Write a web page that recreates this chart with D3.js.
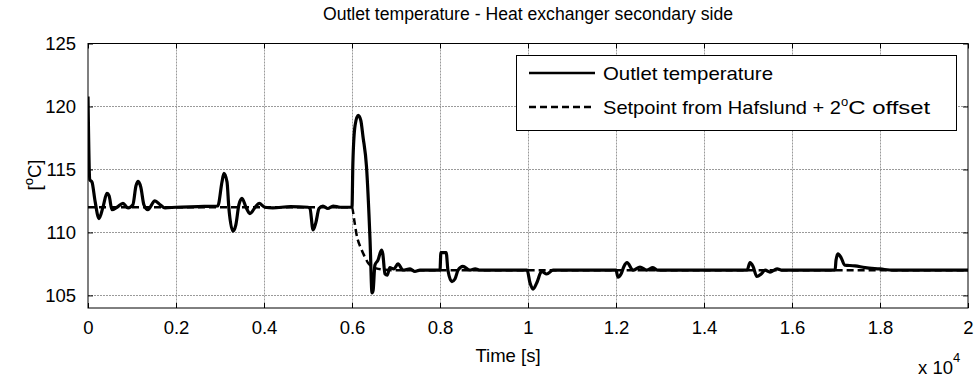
<!DOCTYPE html>
<html>
<head>
<meta charset="utf-8">
<script src="https://cdn.jsdelivr.net/npm/d3@7"></script>
<style>
  body { margin: 0; background: #fff; }
  text { font-family: "Liberation Sans", Arial, sans-serif; fill: #000; }
</style>
</head>
<body>
<svg id="chart" width="976" height="381"></svg>
<script>
// outlet temperature (solid)
var outTime = [0, 40, 91, 160, 250, 340, 430, 480, 545, 660, 795, 910, 1020, 1090, 1140, 1200, 1270, 1360, 1520, 1640, 1750,
  2000, 2500, 2950, 3045, 3090, 3160, 3200, 3295, 3360, 3430, 3500, 3590, 3680, 3800, 3890, 4020, 4200, 4600, 5000,
  5045, 5115, 5180, 5250, 5340, 5450, 5570, 5730, 6000, 6020, 6070, 6140, 6200, 6250, 6330, 6410, 6455, 6480, 6520,
  6590, 6670, 6700, 6750, 6800, 6860, 6950, 7045, 7160, 7320, 7430, 7545, 8000, 8020, 8140, 8180, 8270, 8340, 8410,
  8520, 8680, 8800, 8910, 9980, 10045, 10115, 10200, 10310, 10425, 10570, 12000, 12045, 12115, 12180, 12250, 12390,
  12545, 12700, 12840, 12950, 14980, 15045, 15115, 15200, 15300, 15390, 15500, 15660, 15770, 16980, 17000, 17045,
  17115, 17200, 17430, 17660, 18000, 18300, 20000];
var outTemp = [120.8, 114.2, 114.0, 112.5, 111.1, 112.0, 113.1, 112.9, 111.8, 112.0, 112.3, 111.95, 112.2, 113.7, 114.05, 113.6, 112.2, 111.8, 112.5, 112.2, 111.95,
  112.0, 112.05, 112.1, 114.0, 114.7, 114.0, 112.0, 110.1, 110.6, 112.2, 112.7, 112.0, 111.5, 112.0, 112.3, 112.0, 111.95, 112.05, 112.0,
  111.9, 110.2, 110.8, 111.9, 112.1, 111.9, 112.1, 112.0, 112.0, 115.5, 118.5, 119.3, 118.9, 117.6, 115.2, 109.4, 105.2, 105.4, 107.4,
  107.8, 108.6, 108.3, 106.7, 106.6, 107.2, 107.1, 107.5, 107.0, 107.1, 106.9, 107.0, 107.0, 108.4, 108.4, 107.0, 106.1, 106.3, 107.0,
  107.3, 107.0, 107.1, 107.0, 107.0, 106.0, 105.5, 106.0, 106.9, 106.7, 107.0, 107.0, 106.45, 106.7, 107.3, 107.6, 107.0,
  107.25, 107.0, 107.2, 107.0, 107.0, 107.6, 107.3, 106.5, 106.7, 107.0, 106.85, 107.1, 107.0, 107.0, 107.8, 108.3,
  108.0, 107.4, 107.35, 107.2, 107.1, 107.0, 107.0];

// setpoint from Hafslund + 2 degC offset (dashed)
var setTime = [0, 6000, 6050, 6100, 6220, 6300, 6360, 6450, 6550, 6700, 6900, 20000];
var setTemp = [112, 112, 111.0, 109.9, 108.6, 108.0, 107.6, 107.3, 107.15, 107.05, 107.0, 107.0];

var xTicks = [0, 2000, 4000, 6000, 8000, 10000, 12000, 14000, 16000, 18000, 20000];
var xTickLabels = ["0", "0.2", "0.4", "0.6", "0.8", "1", "1.2", "1.4", "1.6", "1.8", "2"];
var yTicks = [105, 110, 115, 120, 125];

var svg = d3.select("#chart");
var pLeft = 88, pRight = 968, pTop = 43.5, pBottom = 308;

var x = d3.scaleLinear().domain([0, 20000]).range([pLeft, pRight]);
var y = d3.scaleLinear().domain([104, 125]).range([pBottom, pTop]);

// grid
var grid = svg.append("g").attr("stroke", "#9a9a9a").attr("stroke-width", 1).attr("stroke-dasharray", "2,1");
grid.selectAll(".gx").data(xTicks.slice(1, -1)).enter().append("line")
  .attr("x1", d => Math.round(x(d)) + 0.5).attr("x2", d => Math.round(x(d)) + 0.5)
  .attr("y1", pTop).attr("y2", pBottom);
grid.selectAll(".gy").data(yTicks.slice(0, -1)).enter().append("line")
  .attr("y1", d => Math.round(y(d)) + 0.5).attr("y2", d => Math.round(y(d)) + 0.5)
  .attr("x1", pLeft).attr("x2", pRight);

// axes, ticks pointing inward on all four sides
var fmt = function(d, i) { return xTickLabels[i]; };
svg.append("g").attr("transform", "translate(0," + pBottom + ")")
  .call(d3.axisBottom(x).tickValues(xTicks).tickFormat(fmt).tickSizeInner(-5).tickSizeOuter(0).tickPadding(13));
svg.append("g").attr("transform", "translate(0," + pTop + ")")
  .call(d3.axisTop(x).tickValues(xTicks).tickFormat("").tickSizeInner(-5).tickSizeOuter(0));
svg.append("g").attr("transform", "translate(" + pLeft + ",0)")
  .call(d3.axisLeft(y).tickValues(yTicks).tickSizeInner(-5).tickSizeOuter(0).tickPadding(12));
svg.append("g").attr("transform", "translate(" + pRight + ",0)")
  .call(d3.axisRight(y).tickValues(yTicks).tickFormat("").tickSizeInner(-5).tickSizeOuter(0));
svg.selectAll(".domain").remove();
svg.selectAll(".tick line").attr("stroke", "#000");
svg.selectAll(".tick text").style("font-size", "18.5px").style("font-family", "Liberation Sans, Arial, sans-serif");

svg.append("rect").attr("x", pLeft).attr("y", pTop).attr("width", pRight - pLeft).attr("height", pBottom - pTop)
  .attr("fill", "none").attr("stroke", "#000").attr("stroke-width", 1);

// lines
svg.append("clipPath").attr("id", "clip").append("rect")
  .attr("x", pLeft).attr("y", pTop).attr("width", pRight - pLeft).attr("height", pBottom - pTop);

var line = d3.line().x(d => x(d[0])).y(d => y(d[1])).curve(d3.curveMonotoneX);
var setData = setTime.map((t, i) => [t, setTemp[i]]);
var outData = outTime.map((t, i) => [t, outTemp[i]]);

svg.append("path").attr("d", line(setData)).attr("clip-path", "url(#clip)")
  .attr("fill", "none").attr("stroke", "#000").attr("stroke-width", 2.5).attr("stroke-dasharray", "7,4");
svg.append("path").attr("d", line(outData)).attr("clip-path", "url(#clip)")
  .attr("fill", "none").attr("stroke", "#000").attr("stroke-width", 3.2).attr("stroke-linejoin", "round");

// legend
var lg = svg.append("g");
lg.append("rect").attr("x", 516.5).attr("y", 55.5).attr("width", 440).attr("height", 75)
  .attr("fill", "#fff").attr("stroke", "#000").attr("stroke-width", 1);
lg.append("line").attr("x1", 529).attr("x2", 595).attr("y1", 73).attr("y2", 73)
  .attr("stroke", "#000").attr("stroke-width", 2.5);
lg.append("line").attr("x1", 529).attr("x2", 595).attr("y1", 107).attr("y2", 107)
  .attr("stroke", "#000").attr("stroke-width", 2.5).attr("stroke-dasharray", "7,4");
lg.append("text").attr("x", 603).attr("y", 80).style("font-size", "18.5px")
  .attr("textLength", 170).attr("lengthAdjust", "spacingAndGlyphs").text("Outlet temperature");
var t2 = lg.append("text").attr("x", 603).attr("y", 114).style("font-size", "18.5px");
t2.append("tspan").attr("textLength", 238).attr("lengthAdjust", "spacingAndGlyphs").text("Setpoint from Hafslund + 2");
t2.append("tspan").attr("dy", -8).style("font-size", "13px").text("o");
t2.append("tspan").attr("dy", 8).attr("textLength", 82).attr("lengthAdjust", "spacingAndGlyphs").text("C offset");

// title and labels
svg.append("text").attr("x", 528).attr("y", 20).attr("text-anchor", "middle").style("font-size", "17.5px")
  .attr("textLength", 410).attr("lengthAdjust", "spacingAndGlyphs")
  .text("Outlet temperature - Heat exchanger secondary side");
svg.append("text").attr("x", 508).attr("y", 362).attr("text-anchor", "middle").style("font-size", "18.5px")
  .text("Time [s]");
var yl = svg.append("text").attr("transform", "translate(41,175) rotate(-90)").attr("text-anchor", "middle")
  .style("font-size", "18.5px");
yl.append("tspan").text("[");
yl.append("tspan").attr("dy", -8).style("font-size", "13px").text("o");
yl.append("tspan").attr("dy", 8).text("C]");
var ex = svg.append("text").attr("x", 918).attr("y", 374).style("font-size", "18.5px");
ex.append("tspan").text("x 10");
ex.append("tspan").attr("dy", -12).style("font-size", "13px").text("4");
</script>
</body>
</html>
